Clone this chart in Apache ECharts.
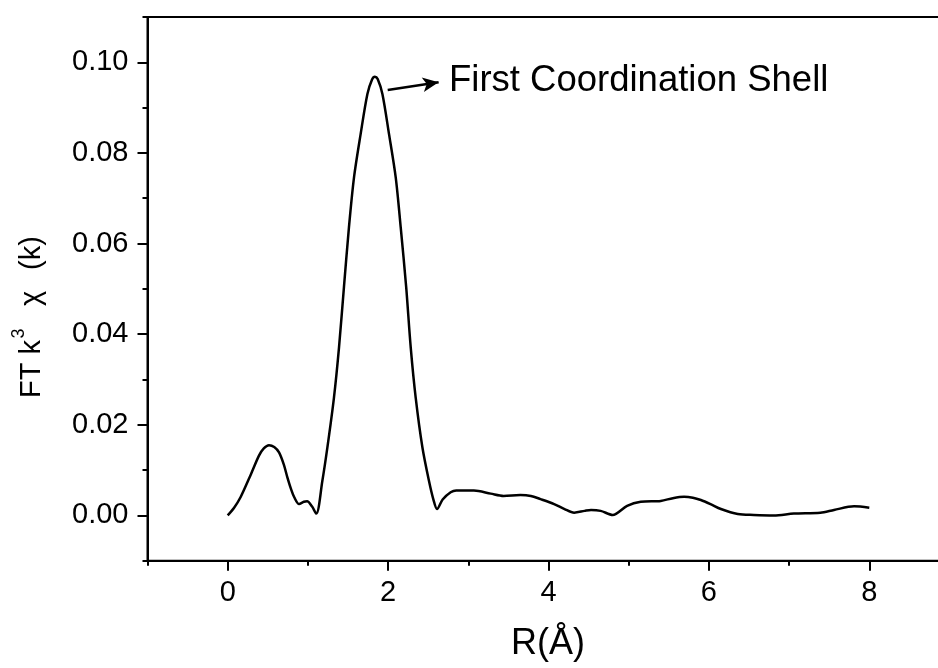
<!DOCTYPE html>
<html>
<head>
<meta charset="utf-8">
<script src="https://cdn.jsdelivr.net/npm/echarts@6/dist/echarts.min.js"></script>
<style>
html,body{margin:0;padding:0;background:#fff;}
#chart{width:938px;height:668px;}
</style>
</head>
<body>
<div id="chart"></div>
<script>
// R values (Å)
const rValues = [0.00,0.08,0.16,0.29,0.39,0.45,0.515,0.58,0.64,0.70,0.744,0.79,0.83,0.89,0.95,0.99,1.05,1.105,
  1.18,1.243,1.325,1.388,1.45,1.512,1.575,1.658,1.742,1.80,1.835,1.87,1.929,2.011,2.095,2.157,2.225,2.282,2.344,
  2.428,2.51,2.565,2.61,2.68,2.78,2.85,3.07,3.28,3.44,3.65,3.78,3.90,4.07,4.20,4.32,4.45,4.53,4.65,4.80,4.98,
  5.15,5.40,5.55,5.69,5.80,5.90,6.02,6.15,6.36,6.56,6.81,7.06,7.39,7.56,7.81,8.00];
// FT k^3 chi(k)
const ftValues = [0.0000,0.0017,0.0040,0.0091,0.0132,0.0148,0.0155,0.0151,0.0139,0.0112,0.0084,0.0058,0.0040,0.0025,0.0030,0.0031,0.0020,0.0004,
  0.0076,0.0150,0.0260,0.0371,0.0505,0.0636,0.0746,0.0842,0.0930,0.0962,0.0968,0.0963,0.0930,0.0842,0.0746,0.0636,0.0505,0.0371,0.0260,
  0.0150,0.0076,0.0035,0.0014,0.0035,0.0051,0.0055,0.0055,0.0048,0.0043,0.0045,0.0043,0.0036,0.0025,0.0014,0.0006,0.0010,0.0012,0.0010,0.0001,0.0021,
  0.0030,0.0032,0.0038,0.0041,0.0039,0.0034,0.0025,0.0014,0.0003,0.0001,0.0000,0.0004,0.0006,0.0012,0.0020,0.0017];
const xMajorTicks = [0,2,4,6,8,10];
const yMajorTicks = [0,0.02,0.04,0.06,0.08,0.10];
const xTitle = 'R(Å)';
const yTitleParts = ['FT k', '3', 'χ', '(k)'];
const annotationText = 'First Coordination Shell';
const arrowFrom = [1.995, 0.0939];
const arrowTo = [2.63, 0.0956];

const FONT = '"Liberation Sans", Arial, Helvetica, sans-serif';
const seriesData = rValues.map((r,i)=>[r, ftValues[i]]);

const GL = 147.5, GT = 17, GW = 882.2, GH = 543.7;
const chart = echarts.init(document.getElementById('chart'), null, {renderer:'canvas'});
const axisLine = {show:true, onZero:false, lineStyle:{color:'#000', width:2}};
const rot = Math.PI/2;
const yt = (text, x, y, size) => ({type:'text', x:x, y:y, rotation:rot,
  style:{text:text, fill:'#000', font:size+'px '+FONT, textAlign:'left', textVerticalAlign:'middle'}});
const gridBox = {left:GL, top:GT, width:GW, height:GH, containLabel:false, outerBoundsMode:'none'};
chart.setOption({
  backgroundColor:'#fff',
  animation:false,
  grid:[
    Object.assign({show:true, borderColor:'#000', borderWidth:2, backgroundColor:'transparent'}, gridBox),
    Object.assign({show:false}, gridBox)
  ],
  xAxis:[
    {type:'value', gridIndex:0, position:'bottom', min:-1, max:10, interval:1,
     axisLine:axisLine, splitLine:{show:false},
     axisTick:{show:true, inside:false, length:5, lineStyle:{color:'#000', width:2}},
     axisLabel:{show:true, margin:18, color:'#000', fontSize:29, fontFamily:FONT,
       formatter:v=>{const k=Math.round(v); return (k%2===0 && k>=0 && k<=8) ? String(k) : '';}}},
    {type:'value', gridIndex:1, position:'bottom', min:-1, max:10, interval:1,
     axisLine:axisLine, splitLine:{show:false}, axisLabel:{show:false},
     axisTick:{show:true, inside:false, length:10, customValues:xMajorTicks, lineStyle:{color:'#000', width:2}}}
  ],
  yAxis:[
    {type:'value', gridIndex:0, position:'left', min:-0.01, max:0.11, interval:0.01,
     axisLine:axisLine, splitLine:{show:false},
     axisTick:{show:true, inside:false, length:5, lineStyle:{color:'#000', width:2}},
     axisLabel:{show:true, margin:19, color:'#000', fontSize:29, fontFamily:FONT,
       formatter:v=>{const k=Math.round(v*100); return (k%2===0 && k>=0 && k<=10) ? (k/100).toFixed(2) : '';}}},
    {type:'value', gridIndex:1, position:'left', min:-0.01, max:0.11, interval:0.01,
     axisLine:axisLine, splitLine:{show:false}, axisLabel:{show:false},
     axisTick:{show:true, inside:false, length:10, customValues:yMajorTicks, lineStyle:{color:'#000', width:2}}}
  ],
  series:[{
    type:'line', xAxisIndex:0, yAxisIndex:0, data:seriesData,
    smooth:0.3, showSymbol:false, symbol:'none',
    lineStyle:{color:'#000', width:2.5},
    markLine:{silent:true, symbol:['none','arrow'], symbolSize:[11,16], animation:false,
      label:{show:false}, lineStyle:{color:'#000', width:2.5, type:'solid'},
      data:[[{coord:arrowFrom},{coord:arrowTo}]]}
  }],
  graphic:[
    {type:'text', x:548, y:644, style:{text:xTitle, fill:'#000', font:'36px '+FONT, textAlign:'center', textVerticalAlign:'middle'}},
    {type:'text', x:449, y:81, style:{text:annotationText, fill:'#000', font:'36.5px '+FONT, textAlign:'left', textVerticalAlign:'middle'}},
    yt(yTitleParts[0], 32, 398, 29),
    yt(yTitleParts[1], 19, 338.5, 18),
    yt(yTitleParts[2], 32, 306, 29),
    yt(yTitleParts[3], 32, 270, 29)
  ]
});
</script>
</body>
</html>
